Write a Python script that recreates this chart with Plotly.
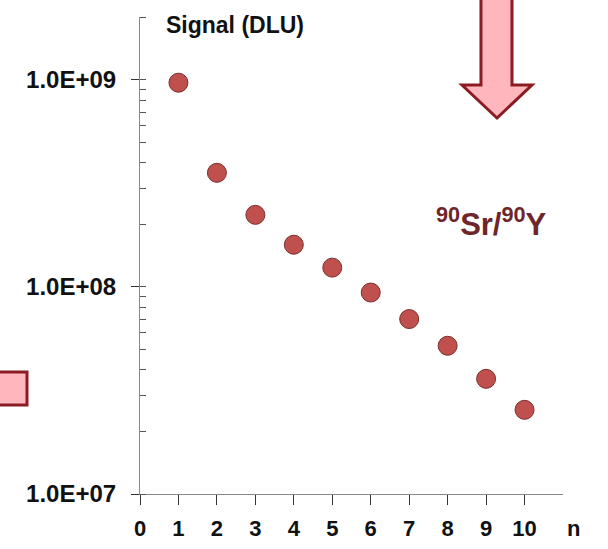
import plotly.graph_objects as go

# data
n_values = [1, 2, 3, 4, 5, 6, 7, 8, 9, 10]
signal_dlu = [9.7e8, 3.56e8, 2.23e8, 1.6e8, 1.24e8, 9.4e7, 7.0e7, 5.2e7, 3.6e7, 2.55e7]
x_ticks = [0, 1, 2, 3, 4, 5, 6, 7, 8, 9, 10]
y_tickvals = [1e7, 1e8, 1e9]
y_ticktext = ["1.0E+07", "1.0E+08", "1.0E+09"]

W, H = 608, 549
L, R, T, B = 140, 45, 17, 55
FONT = "Liberation Sans, Arial, sans-serif"
ARROW_LINE = "#8c1c24"
ARROW_FILL = "#ffb7bd"


def px(x, y):
    """pixel position -> paper coords"""
    return (x - L) / (W - L - R), (H - B - y) / (H - T - B)


fig = go.Figure()
fig.add_trace(go.Scatter(
    x=n_values, y=signal_dlu, mode="markers",
    marker=dict(size=19, color="#c0504d", line=dict(color="#7a2f2c", width=1)),
    showlegend=False, hoverinfo="x+y",
))

# down arrow (top right)
arrow = [(481, -6), (512, -6), (512, 85), (532, 85), (497, 118), (462, 85), (481, 85)]
pts = [px(*p) for p in arrow]
path = "M " + " L ".join(f"{a:.4f},{b:.4f}" for a, b in pts) + " Z"
fig.add_shape(type="path", path=path, xref="paper", yref="paper",
              line=dict(color=ARROW_LINE, width=3), fillcolor=ARROW_FILL, layer="above")

# cut-off arrow at the left edge
x0, y0 = px(-10, 405)
x1, y1 = px(27, 372)
fig.add_shape(type="rect", x0=x0, y0=y0, x1=x1, y1=y1, xref="paper", yref="paper",
              line=dict(color=ARROW_LINE, width=3), fillcolor=ARROW_FILL, layer="above")

ax, ay = px(235, 25)
fig.add_annotation(text="<b>Signal (DLU)</b>", x=ax, y=ay, xref="paper", yref="paper",
                   showarrow=False, xanchor="center", yanchor="middle",
                   font=dict(family=FONT, size=23, color="#111111"))
ax, ay = px(573, 528)
fig.add_annotation(text="<b>n</b>", x=ax, y=ay, xref="paper", yref="paper",
                   showarrow=False, xanchor="center", yanchor="middle",
                   font=dict(family=FONT, size=22, color="#111111"))
ax, ay = px(491, 222)
fig.add_annotation(text="<b><sup>90</sup>Sr/<sup>90</sup>Y</b>", x=ax, y=ay, xref="paper", yref="paper",
                   showarrow=False, xanchor="center", yanchor="middle",
                   font=dict(family=FONT, size=31, color="#6e262b"))

fig.update_xaxes(
    range=[0, 11], tickvals=x_ticks, ticks="outside", ticklen=10, tickcolor="#333333",
    showline=True, linecolor="#888888", linewidth=1, showgrid=False, zeroline=False,
    tickfont=dict(family=FONT, size=22, color="#111111", weight="bold"),
    ticklabelstandoff=5, automargin=False,
)
fig.update_yaxes(
    type="log", range=[7, 9.304], tickvals=y_tickvals, ticktext=y_ticktext,
    ticks="outside", ticklen=8, tickcolor="#333333",
    showline=True, linecolor="#888888", linewidth=1, showgrid=False, zeroline=False,
    tickfont=dict(family=FONT, size=24, color="#111111", weight="bold"),
    ticklabelstandoff=10, automargin=False,
    minor=dict(ticks="inside", ticklen=6, tickcolor="#555555", dtick="D1", showgrid=False),
)
fig.update_layout(
    width=W, height=H, margin=dict(l=L, r=R, t=T, b=B),
    plot_bgcolor="white", paper_bgcolor="white",
)
# page body has a default 8px margin; drop it so the figure fills the window
fig.write_html("out.html", config={"displayModeBar": False},
               post_script="document.body.style.margin='0';")
